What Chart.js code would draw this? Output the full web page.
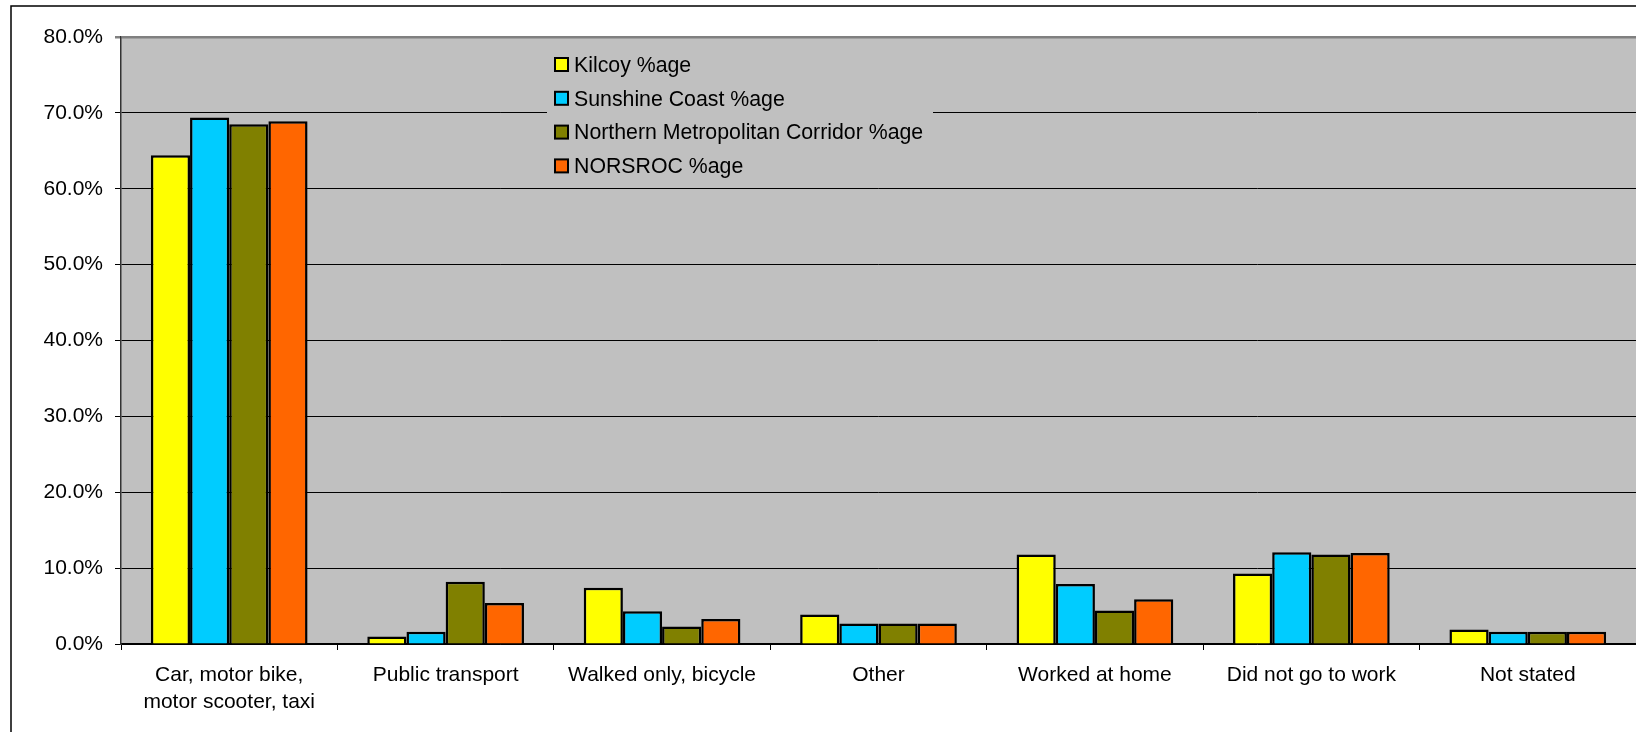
<!DOCTYPE html>
<html>
<head>
<meta charset="utf-8">
<script src="https://cdn.jsdelivr.net/npm/chart.js@4.4.1/dist/chart.umd.min.js"></script>
<style>
  body { margin: 0; background: #fff; }
  canvas { display: block; }
</style>
</head>
<body>
<canvas id="chart" width="1636" height="732"></canvas>
<script>
var categories = [
  ['Car, motor bike,', 'motor scooter, taxi'],
  'Public transport',
  'Walked only, bicycle',
  'Other',
  'Worked at home',
  'Did not go to work',
  'Not stated'
];
var seriesNames = ['Kilcoy %age', 'Sunshine Coast %age', 'Northern Metropolitan Corridor %age', 'NORSROC %age'];
var kilcoy = [64.4, 1.0, 7.4, 3.9, 11.8, 9.3, 1.9];
var sunshineCoast = [69.4, 1.6, 4.3, 2.7, 7.9, 12.1, 1.6];
var northernCorridor = [68.5, 8.2, 2.3, 2.7, 4.4, 11.8, 1.6];
var norsroc = [68.9, 5.4, 3.3, 2.7, 5.9, 12.0, 1.6];
var colours = ['#ffff00', '#00ccff', '#808000', '#ff6600'];

var font = 'Liberation Sans, Arial, sans-serif';

// grey plot area and the outer frame (top and left edges only show)
var backdrop = {
  id: 'backdrop',
  beforeDraw: function (chart) {
    var ctx = chart.ctx, a = chart.chartArea;
    ctx.save();
    ctx.fillStyle = '#c0c0c0';
    ctx.fillRect(a.left, a.top, a.right - a.left, a.bottom - a.top);
    ctx.strokeStyle = '#000';
    ctx.lineWidth = 1.5;
    ctx.beginPath();
    ctx.moveTo(11, chart.height);
    ctx.lineTo(11, 6);
    ctx.lineTo(chart.width, 6);
    ctx.stroke();
    ctx.restore();
  }
};

// legend sitting inside the plot area
var boxLegend = {
  id: 'boxLegend',
  afterDatasetsDraw: function (chart) {
    var ctx = chart.ctx;
    ctx.save();
    ctx.fillStyle = '#c0c0c0';
    ctx.fillRect(547, 46, 386, 136);
    ctx.font = '21.3px ' + font;
    ctx.textBaseline = 'middle';
    chart.data.datasets.forEach(function (ds, i) {
      var y = 65 + i * 33.8;
      ctx.fillStyle = ds.backgroundColor;
      ctx.fillRect(555, y - 7, 13, 13);
      ctx.strokeStyle = '#000';
      ctx.lineWidth = 2;
      ctx.strokeRect(555, y - 7, 13, 13);
      ctx.fillStyle = '#000';
      ctx.fillText(ds.label, 574, y + 1);
    });
    ctx.restore();
  }
};

var values = [kilcoy, sunshineCoast, northernCorridor, norsroc];

new Chart(document.getElementById('chart'), {
  type: 'bar',
  data: {
    labels: categories,
    datasets: values.map(function (v, i) {
      return {
        label: seriesNames[i],
        data: v,
        backgroundColor: colours[i],
        borderColor: '#000',
        borderWidth: 2.5,
        borderSkipped: 'bottom',
        categoryPercentage: 0.724,
        barPercentage: 1
      };
    })
  },
  options: {
    responsive: false,
    animation: false,
    layout: { padding: { top: 37, right: 0, left: 0, bottom: 0 } },
    plugins: {
      legend: { display: false },
      tooltip: { enabled: false }
    },
    scales: {
      x: {
        grid: {
          offset: true,
          drawOnChartArea: false,
          drawTicks: true,
          tickLength: 6,
          color: '#000'
        },
        border: { color: '#000', width: 1.5 },
        ticks: {
          color: '#000',
          padding: 11,
          maxRotation: 0,
          autoSkip: false,
          font: { family: font, size: 21, lineHeight: 1.32 }
        },
        afterFit: function (s) { s.height = 88; }
      },
      y: {
        min: 0,
        max: 80,
        ticks: {
          stepSize: 10,
          color: '#000',
          padding: 12,
          font: { family: font, size: 21 },
          callback: function (v) { return v.toFixed(1) + '%'; }
        },
        grid: {
          tickLength: 6,
          color: function (c) { return c.tick && c.tick.value === 80 ? '#808080' : '#000'; },
          lineWidth: function (c) { return c.tick && c.tick.value === 80 ? 2.5 : 1; }
        },
        border: { color: '#333', width: 1.5 },
        afterFit: function (s) { s.width = 121; }
      }
    }
  },
  plugins: [backdrop, boxLegend]
});
</script>
</body>
</html>
